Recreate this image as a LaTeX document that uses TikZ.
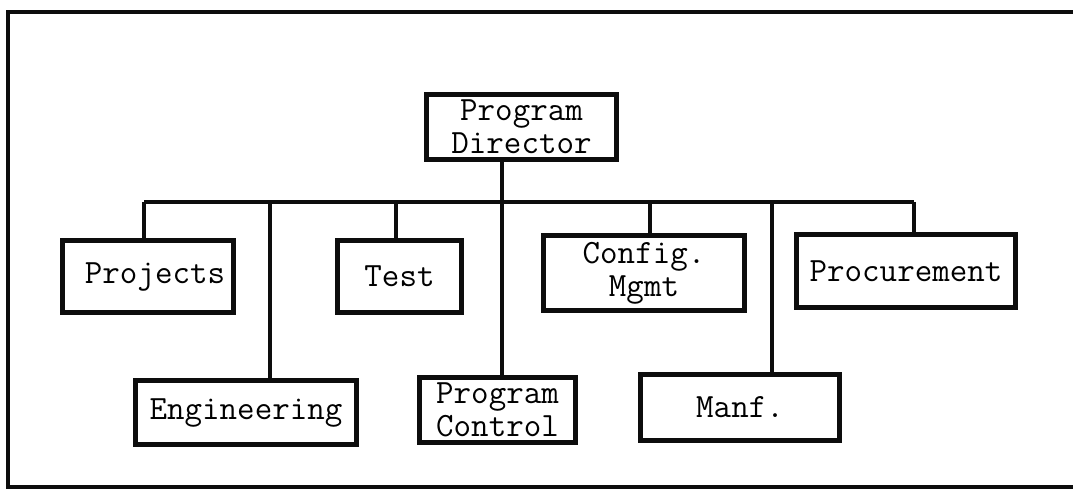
\documentclass[tikz,border=0pt]{standalone}
\usetikzlibrary{calc}
\definecolor{InkClr}{rgb}{0.05,0.05,0.05}

\begin{document}
\begin{tikzpicture}[x=1pt,y=-1pt,
  unit/.style={draw=InkClr,line width=5pt,rectangle,inner sep=0pt,align=center,
    font=\fontsize{34}{33}\selectfont\ttfamily},
  link/.style={draw=InkClr,line width=4pt}]
\useasboundingbox (0,0) rectangle (1073,491);

% frame, open on the right
\draw[InkClr,line width=4.5pt] (1080,12) -- (8,12) -- (8,487) -- (1080,487);

\node[unit,minimum width=190,minimum height=65] (dir) at (521.5,127) {Program\\Director};

% first row
\node[unit,minimum width=171,minimum height=72] (proj) at (148,276.5) {\hspace*{14pt}Projects};
\node[unit,minimum width=124,minimum height=72] (test) at (399.5,276.5) {Test};
\node[unit,minimum width=201,minimum height=75] (cfg) at (644,273) {Config.\\Mgmt};
\node[unit,minimum width=219,minimum height=73] (proc) at (906,271) {Procurement};

% second row
\node[unit,minimum width=221,minimum height=64] (eng) at (246,412.5) {Engineering};
\node[unit,minimum width=156,minimum height=65] (pctl) at (497.5,410) {Program\\Control};
\node[unit,minimum width=199,minimum height=66] (manf) at (740,407.5) {Manf.};

% bus and drops
\coordinate (jP) at (144,202);
\coordinate (jE) at (270,202);
\coordinate (jT) at (396,202);
\coordinate (jD) at (502,202);
\coordinate (jC) at (650,202);
\coordinate (jM) at (772,202);
\coordinate (jR) at (914,202);

\draw[link] (jP) -- (jR);
\draw[link] (dir.south -| jD) -- (pctl.north -| jD);
\draw[link] (jP) -- (proj.north -| jP);
\draw[link] (jE) -- (eng.north -| jE);
\draw[link] (jT) -- (test.north -| jT);
\draw[link] (jC) -- (cfg.north -| jC);
\draw[link] (jM) -- (manf.north -| jM);
\draw[link] (jR) -- (proc.north -| jR);
\end{tikzpicture}
\end{document}
